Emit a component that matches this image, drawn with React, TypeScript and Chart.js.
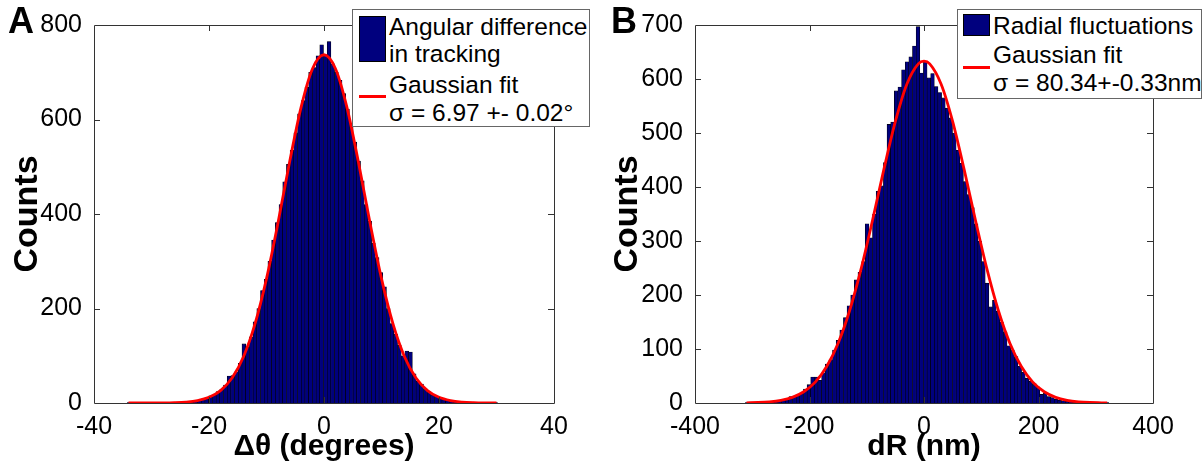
import React, { useEffect, useRef } from "react";
import { Chart, registerables } from "chart.js";

Chart.register(...registerables);

const FONT = "'Liberation Sans', Arial, Helvetica, sans-serif";

// ---------- Panel A : angular difference ----------
const binStartA = -33.9;
const binWidthA = 0.644;
const countsA = [
  1, 0, 0, 0, 0, 0, 0, 0, 0, 0,
  0, 0, 1, 0, 1, 2, 2, 3, 5, 6,
  8, 11, 15, 17, 24, 29, 38, 57, 58, 66,
  84, 125, 118, 140, 172, 200, 238, 262, 300, 345,
  382, 420, 468, 505, 535, 572, 612, 640, 668, 700,
  710, 735, 758, 735, 765, 718, 700, 683, 655, 622,
  592, 552, 512, 470, 420, 385, 338, 308, 276, 246,
  200, 168, 146, 122, 100, 110, 108, 62, 46, 40,
  30, 24, 17, 14, 10, 8, 6, 4, 3, 3,
  2, 1, 1, 1, 0, 0, 0, 0, 0, 1,
];
const fitXA = [-34, -32, -30, -28, -26, -24, -22, -20, -18, -16, -14, -12, -10, -8, -6, -4, -2, 0, 2, 4, 6, 8, 10, 12, 14, 16, 18, 20, 22, 24, 26, 28, 30];
const fitYA = [0.0, 0.0, 0.1, 0.2, 0.7, 2.0, 5.1, 12.0, 26.3, 52.8, 98.0, 167.4, 263.3, 381.4, 508.8, 625.1, 707.3, 737, 707.3, 625.1, 508.8, 381.4, 263.3, 167.4, 98.0, 52.8, 26.3, 12.0, 5.1, 2.0, 0.7, 0.2, 0.1];
const xTicksA = [-40, -20, 0, 20, 40];
const yTicksA = [0, 200, 400, 600, 800];
const xTitleA = "Δθ (degrees)";
const barLabelA = ["Angular difference", "in tracking"];
const fitLabelA = ["Gaussian fit", "σ = 6.97 +- 0.02°"];

// ---------- Panel B : radial fluctuations ----------
const binStartB = -309;
const binWidthB = 6.35;
const countsB = [
  1, 0, 0, 1, 1, 1, 2, 3, 3, 5,
  6, 8, 12, 13, 14, 18, 26, 34, 48, 48,
  42, 56, 72, 80, 98, 116, 135, 158, 180, 200,
  228, 242, 262, 332, 306, 350, 392, 402, 445, 516,
  520, 578, 585, 617, 632, 641, 661, 697, 611, 632,
  602, 610, 586, 575, 565, 546, 528, 500, 468, 444,
  410, 386, 362, 332, 300, 262, 222, 178, 190, 170,
  150, 132, 106, 98, 86, 68, 57, 46, 40, 36,
  30, 16, 18, 12, 10, 7, 5, 4, 3, 3,
  2, 1, 1, 1, 0, 1, 0, 0, 0, 1,
];
const fitXB = [-310, -290, -270, -250, -230, -210, -190, -170, -150, -130, -110, -90, -70, -50, -30, -10, 0, 10, 30, 50, 70, 90, 110, 130, 150, 170, 190, 210, 230, 250, 270, 290, 310, 320];
const fitYB = [0.4, 0.9, 2.2, 5.0, 10.5, 20.8, 38.6, 67.5, 110.8, 170.9, 247.9, 338.0, 433.0, 521.5, 590.4, 628.1, 633, 628.1, 590.4, 521.5, 433.0, 338.0, 247.9, 170.9, 110.8, 67.5, 38.6, 20.8, 10.5, 5.0, 2.2, 0.9, 0.4, 0.2];
const xTicksB = [-400, -200, 0, 200, 400];
const yTicksB = [0, 100, 200, 300, 400, 500, 600, 700];
const xTitleB = "dR (nm)";
const barLabelB = ["Radial fluctuations"];
const fitLabelB = ["Gaussian fit", "σ = 80.34+-0.33nm"];

const yTitle = "Counts";

// box frame with inward ticks on all four sides (MATLAB style)
const frameTicks = {
  id: "frameTicks",
  afterDatasetsDraw(chart: any) {
    const { ctx, chartArea } = chart;
    const { left, right, top, bottom } = chartArea;
    const xs = chart.scales.x;
    const ys = chart.scales.y;
    const L = 6;
    ctx.save();
    ctx.strokeStyle = "#333333";
    ctx.lineWidth = 1;
    ctx.beginPath();
    ctx.rect(Math.round(left) + 0.5, Math.round(top) + 0.5, Math.round(right - left), Math.round(bottom - top));
    ctx.stroke();
    ctx.beginPath();
    xs.ticks.forEach((t: any) => {
      const p = Math.round(xs.getPixelForValue(t.value)) + 0.5;
      if (p < left + 2 || p > right - 2) return;
      ctx.moveTo(p, bottom);
      ctx.lineTo(p, bottom - L);
      ctx.moveTo(p, top);
      ctx.lineTo(p, top + L);
    });
    ys.ticks.forEach((t: any) => {
      const p = Math.round(ys.getPixelForValue(t.value)) + 0.5;
      if (p < top + 2 || p > bottom - 2) return;
      ctx.moveTo(left, p);
      ctx.lineTo(left + L, p);
      ctx.moveTo(right, p);
      ctx.lineTo(right - L, p);
    });
    ctx.stroke();
    ctx.restore();
  },
};

type PanelProps = {
  counts: number[];
  binStart: number;
  binWidth: number;
  fitX: number[];
  fitY: number[];
  xTicks: number[];
  yTicks: number[];
  xTitle: string;
  canvasW: number;
  yAxisW: number;
  rightPad: number;
};

function HistChart(p: PanelProps) {
  const ref = useRef<HTMLCanvasElement>(null);
  useEffect(() => {
    const bars = p.counts.map((c, i) => ({ x: p.binStart + i * p.binWidth, y: c }));
    const fit = p.fitX.map((x, i) => ({ x, y: p.fitY[i] }));
    const tickFont = { family: FONT, size: 25 };
    const chart = new Chart(ref.current as HTMLCanvasElement, {
      type: "bar",
      data: {
        datasets: [
          {
            type: "line",
            data: fit,
            borderColor: "#ff0000",
            borderWidth: 2.8,
            pointRadius: 0,
            cubicInterpolationMode: "monotone",
            fill: false,
            order: 0,
          } as any,
          {
            type: "bar",
            data: bars,
            backgroundColor: "#00007e",
            borderColor: "#000000",
            borderWidth: 0.6,
            barPercentage: 1,
            categoryPercentage: 1,
            order: 1,
          } as any,
        ],
      },
      options: {
        animation: false,
        responsive: false,
        devicePixelRatio: 1,
        layout: { padding: { left: 0, right: p.rightPad, top: 25, bottom: 0 } },
        plugins: { legend: { display: false }, tooltip: { enabled: false } },
        scales: {
          x: {
            type: "linear",
            offset: false,
            min: p.xTicks[0],
            max: p.xTicks[p.xTicks.length - 1],
            afterBuildTicks: (s: any) => {
              s.ticks = p.xTicks.map((v) => ({ value: v }));
            },
            afterFit: (s: any) => {
              s.height = 65;
            },
            grid: { display: false },
            border: { display: false },
            ticks: { font: tickFont, color: "#000", padding: 1, maxRotation: 0, autoSkip: false },
            title: {
              display: true,
              text: p.xTitle,
              color: "#000",
              font: { family: FONT, size: 30, weight: "bold" },
              padding: { top: 0, bottom: 3 },
            },
          },
          y: {
            type: "linear",
            min: p.yTicks[0],
            max: p.yTicks[p.yTicks.length - 1],
            afterBuildTicks: (s: any) => {
              s.ticks = p.yTicks.map((v) => ({ value: v }));
            },
            afterFit: (s: any) => {
              s.width = p.yAxisW;
            },
            grid: { display: false },
            border: { display: false },
            ticks: { font: tickFont, color: "#000", padding: 4, autoSkip: false },
            title: {
              display: true,
              text: yTitle,
              color: "#000",
              font: { family: FONT, size: 34, weight: "bold" },
              padding: { top: 7, bottom: 0 },
            },
          },
        },
      } as any,
      plugins: [frameTicks],
    });
    return () => chart.destroy();
  }, []);
  return (
    <canvas
      ref={ref}
      width={p.canvasW}
      height={468}
      style={{ position: "absolute", left: 0, top: 0, width: p.canvasW, height: 468 }}
    />
  );
}

function TextLine({ text, left, cy }: { text: string; left: number; cy: number }) {
  return (
    <div
      style={{
        position: "absolute",
        left,
        top: cy - 14,
        height: 28,
        lineHeight: "28px",
        fontSize: 24.5,
        fontFamily: FONT,
        color: "#000",
        whiteSpace: "nowrap",
      }}
    >
      {text}
    </div>
  );
}

const letterStyle: React.CSSProperties = {
  position: "absolute",
  top: 3,
  fontFamily: FONT,
  fontWeight: "bold",
  fontSize: 36,
  lineHeight: "36px",
};

export default function App() {
  return (
    <div
      style={{
        position: "absolute",
        left: 0,
        top: 0,
        width: 1203,
        height: 468,
        background: "#fff",
        overflow: "hidden",
      }}
    >
      {/* Panel A */}
      <div style={{ position: "absolute", left: 0, top: 0, width: 600, height: 468 }}>
        <HistChart
          counts={countsA}
          binStart={binStartA}
          binWidth={binWidthA}
          fitX={fitXA}
          fitY={fitYA}
          xTicks={xTicksA}
          yTicks={yTicksA}
          xTitle={xTitleA}
          canvasW={600}
          yAxisW={94}
          rightPad={46}
        />
        <div style={{ ...letterStyle, left: 8 }}>A</div>
        <div
          style={{
            position: "absolute",
            left: 352,
            top: 9,
            width: 238,
            height: 118,
            boxSizing: "border-box",
            border: "1px solid #666",
            background: "#fff",
          }}
        >
          <div
            style={{
              position: "absolute",
              left: 6,
              top: 6,
              width: 27,
              height: 46,
              boxSizing: "border-box",
              background: "#00007e",
              border: "1px solid #000",
            }}
          />
          <div style={{ position: "absolute", left: 6, top: 85, width: 27, height: 3, background: "#ff0000" }} />
          <TextLine text={barLabelA[0]} left={36} cy={17} />
          <TextLine text={barLabelA[1]} left={36} cy={44} />
          <TextLine text={fitLabelA[0]} left={36} cy={75} />
          <TextLine text={fitLabelA[1]} left={36} cy={103} />
        </div>
      </div>

      {/* Panel B */}
      <div style={{ position: "absolute", left: 600, top: 0, width: 603, height: 468 }}>
        <HistChart
          counts={countsB}
          binStart={binStartB}
          binWidth={binWidthB}
          fitX={fitXB}
          fitY={fitYB}
          xTicks={xTicksB}
          yTicks={yTicksB}
          xTitle={xTitleB}
          canvasW={603}
          yAxisW={95}
          rightPad={50}
        />
        <div style={{ ...letterStyle, left: 11 }}>B</div>
        <div
          style={{
            position: "absolute",
            left: 357,
            top: 9,
            width: 245,
            height: 90,
            boxSizing: "border-box",
            border: "1px solid #666",
            background: "#fff",
          }}
        >
          <div
            style={{
              position: "absolute",
              left: 5,
              top: 4,
              width: 27,
              height: 22,
              boxSizing: "border-box",
              background: "#00007e",
              border: "1px solid #000",
            }}
          />
          <div style={{ position: "absolute", left: 5, top: 56, width: 27, height: 3, background: "#ff0000" }} />
          <TextLine text={barLabelB[0]} left={35} cy={16} />
          <TextLine text={fitLabelB[0]} left={35} cy={45} />
          <TextLine text={fitLabelB[1]} left={35} cy={73} />
        </div>
      </div>
    </div>
  );
}
